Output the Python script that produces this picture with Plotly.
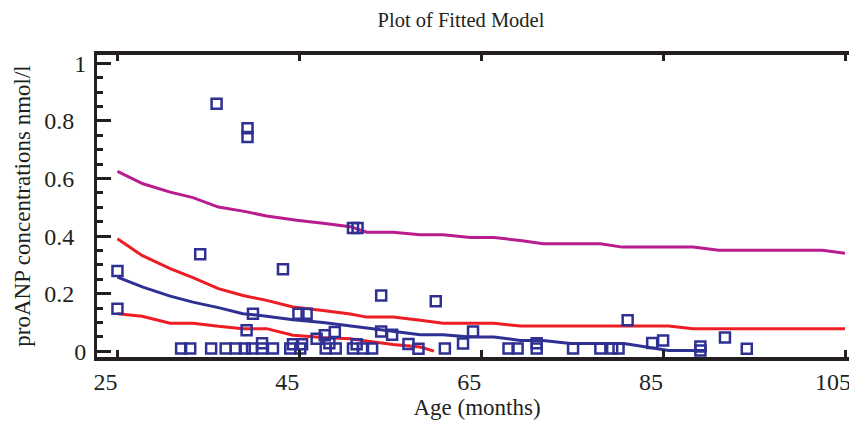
import plotly.graph_objects as go

# ---- observed data (age in months, proANP nmol/l) ----
obs_age = [25.0, 25.0, 32.0, 33.0, 34.1, 35.3, 35.9, 36.9, 38.0, 39.0, 39.2, 39.3, 39.3,
           39.8, 39.9, 40.9, 40.9, 42.1, 43.2, 44.0, 44.3, 44.9, 45.1, 45.3, 45.8, 46.9,
           47.8, 47.9, 48.3, 48.9, 49.0, 50.9, 50.9, 51.4, 51.3, 52.0, 53.0, 54.0, 54.0,
           55.2, 57.0, 58.1, 60.0, 61.0, 63.0, 64.1, 68.0, 69.0, 71.1, 71.1, 75.1, 78.1,
           79.4, 80.1, 81.1, 83.8, 85.0, 89.1, 89.1, 91.8, 94.2]
obs_conc = [0.279, 0.148, 0.01, 0.01, 0.337, 0.01, 0.860, 0.01, 0.01, 0.01, 0.073, 0.775, 0.744,
            0.01, 0.131, 0.01, 0.028, 0.01, 0.285, 0.01, 0.025, 0.131, 0.01, 0.025, 0.131, 0.044,
            0.056, 0.01, 0.028, 0.067, 0.01, 0.01, 0.428, 0.428, 0.025, 0.01, 0.01, 0.194, 0.069,
            0.058, 0.026, 0.009, 0.174, 0.01, 0.027, 0.069, 0.01, 0.01, 0.01, 0.028, 0.01, 0.01,
            0.01, 0.01, 0.108, 0.029, 0.038, 0.017, 0.003, 0.048, 0.009]

# ---- fitted model ----
fit_age = [25, 27.8, 30.8, 33.3, 36.1, 38.8, 41.4, 44.3, 47.6, 50.6, 52.4, 55.3, 58.3, 60.8,
           63.8, 66.4, 69.3, 71.8, 74.8, 80.7, 85.6, 89.8]
fit_val = [0.258, 0.223, 0.192, 0.171, 0.152, 0.131, 0.122, 0.110, 0.100, 0.088, 0.079, 0.069,
           0.058, 0.058, 0.050, 0.050, 0.038, 0.038, 0.027, 0.027, 0.003, 0.003]

# ---- confidence limits (red) ----
ci_up_age = [25, 27.7, 30.8, 33.3, 36.1, 38.8, 41.4, 44.3, 47.6, 50.6, 52.4, 55.3, 58.3, 60.8,
             66.4, 69.3, 85.6, 88.3, 105]
ci_up_val = [0.391, 0.333, 0.287, 0.256, 0.218, 0.194, 0.177, 0.154, 0.142, 0.130, 0.119, 0.119,
             0.108, 0.098, 0.098, 0.088, 0.088, 0.079, 0.079]
ci_lo_age = [25, 27.7, 30.8, 33.3, 36.1, 38.8, 41.4, 44.3, 47.6, 50.6, 52.4, 55.3, 58.3, 59.8]
ci_lo_val = [0.131, 0.122, 0.098, 0.098, 0.087, 0.079, 0.079, 0.056, 0.048, 0.044, 0.036, 0.024,
             0.015, 0.001]

# ---- prediction limit (magenta) ----
pl_age = [25, 27.8, 30.8, 33.3, 36.1, 38.8, 41.4, 44.7, 47.6, 50.6, 52.4, 55.3, 58.3, 60.8,
          63.8, 66.4, 69.3, 71.8, 78.1, 80.5, 88.3, 91.1, 102.5, 105]
pl_val = [0.625, 0.582, 0.553, 0.534, 0.501, 0.487, 0.470, 0.455, 0.445, 0.433, 0.414, 0.414,
          0.405, 0.405, 0.395, 0.395, 0.385, 0.374, 0.374, 0.362, 0.362, 0.351, 0.351, 0.341]

x_ticks = [25, 45, 65, 85, 105]
y_ticks = [0, 0.2, 0.4, 0.6, 0.8, 1]
y_ticktext = ["0", "0.2\u00a0\u00a0", "0.4\u00a0\u00a0", "0.6\u00a0\u00a0",
              "0.8\u00a0\u00a0", "1"]

BLUE = "#2e3192"
RED = "#ee1c25"
MAGENTA = "#b81c8e"
AX = "#231f20"
FONT = "Liberation Serif"

fig = go.Figure()
fig.add_trace(go.Scatter(x=pl_age, y=pl_val, mode="lines",
                         line=dict(color=MAGENTA, width=3), showlegend=False))
fig.add_trace(go.Scatter(x=ci_up_age, y=ci_up_val, mode="lines",
                         line=dict(color=RED, width=3), showlegend=False))
fig.add_trace(go.Scatter(x=ci_lo_age, y=ci_lo_val, mode="lines",
                         line=dict(color=RED, width=3), showlegend=False))
fig.add_trace(go.Scatter(x=fit_age, y=fit_val, mode="lines",
                         line=dict(color=BLUE, width=3), showlegend=False))
fig.add_trace(go.Scatter(x=obs_age, y=obs_conc, mode="markers",
                         marker=dict(symbol="square-open", size=10, color=BLUE,
                                     line=dict(color=BLUE, width=2.5)),
                         showlegend=False))
# transparent copies that activate the top, right and minor-tick axes
fig.add_trace(go.Scatter(x=fit_age, y=fit_val, xaxis="x2", yaxis="y", mode="lines",
                         opacity=0, hoverinfo="skip", showlegend=False))
fig.add_trace(go.Scatter(x=fit_age, y=fit_val, xaxis="x", yaxis="y2", mode="lines",
                         opacity=0, hoverinfo="skip", showlegend=False))
fig.add_trace(go.Scatter(x=fit_age, y=fit_val, xaxis="x", yaxis="y3", mode="lines",
                         opacity=0, hoverinfo="skip", showlegend=False))

xr = [22.75, 106.32]
yr = [-0.0195, 1.029]

# page body has an 8px margin: figure origin is at (8, 8) in the window
fig.update_layout(
    width=857, height=425,
    margin=dict(l=89, r=8, t=47, b=76, autoexpand=False),
    paper_bgcolor="white", plot_bgcolor="white",
    font=dict(family=FONT, color="#231f20"),
    title=dict(text="Plot of Fitted Model", x=453 / 857, xref="container", xanchor="center",
               y=1 - 12 / 425, yref="container", yanchor="middle",
               font=dict(family=FONT, size=20.5, color="#231f20")),
    xaxis=dict(range=xr, tickvals=x_ticks, ticks="inside", ticklen=7, tickwidth=3,
               tickcolor=AX, showline=True, linecolor=AX, linewidth=4, mirror=True,
               showgrid=False, zeroline=False, ticklabelshift=-12, automargin=False,
               tickfont=dict(family=FONT, size=24, color="#231f20"),
               title=dict(text="Age (months)", standoff=4,
                          font=dict(family=FONT, size=23, color="#231f20"))),
    xaxis2=dict(range=xr, overlaying="x", side="top", anchor="y", tickvals=x_ticks,
                ticks="inside", ticklen=6, tickwidth=3, tickcolor=AX, showline=False,
                showticklabels=False, showgrid=False, zeroline=False, automargin=False),
    yaxis=dict(range=yr, tickvals=y_ticks, ticktext=y_ticktext, ticks="inside",
               ticklen=14, tickwidth=3, tickcolor=AX, showline=True, linecolor=AX,
               linewidth=3, showgrid=False, zeroline=False, ticklabelstandoff=3,
               automargin=False,
               tickfont=dict(family=FONT, size=24, color="#231f20"),
               title=dict(text="proANP concentrations nmol/l", standoff=8,
                          font=dict(family=FONT, size=23, color="#231f20"))),
    yaxis2=dict(range=yr, overlaying="y", side="right", anchor="x", tickvals=y_ticks,
                ticks="inside", ticklen=5, tickwidth=3, tickcolor=AX, showline=False,
                automargin=False, showticklabels=False, showgrid=False, zeroline=False),
    yaxis3=dict(range=yr, overlaying="y", side="left", anchor="x", tickmode="linear",
                tick0=0, dtick=0.05, ticks="inside", ticklen=6, tickwidth=3, tickcolor=AX,
                showline=False, automargin=False, showticklabels=False, showgrid=False,
                zeroline=False),
)

fig.write_html("out.html")
